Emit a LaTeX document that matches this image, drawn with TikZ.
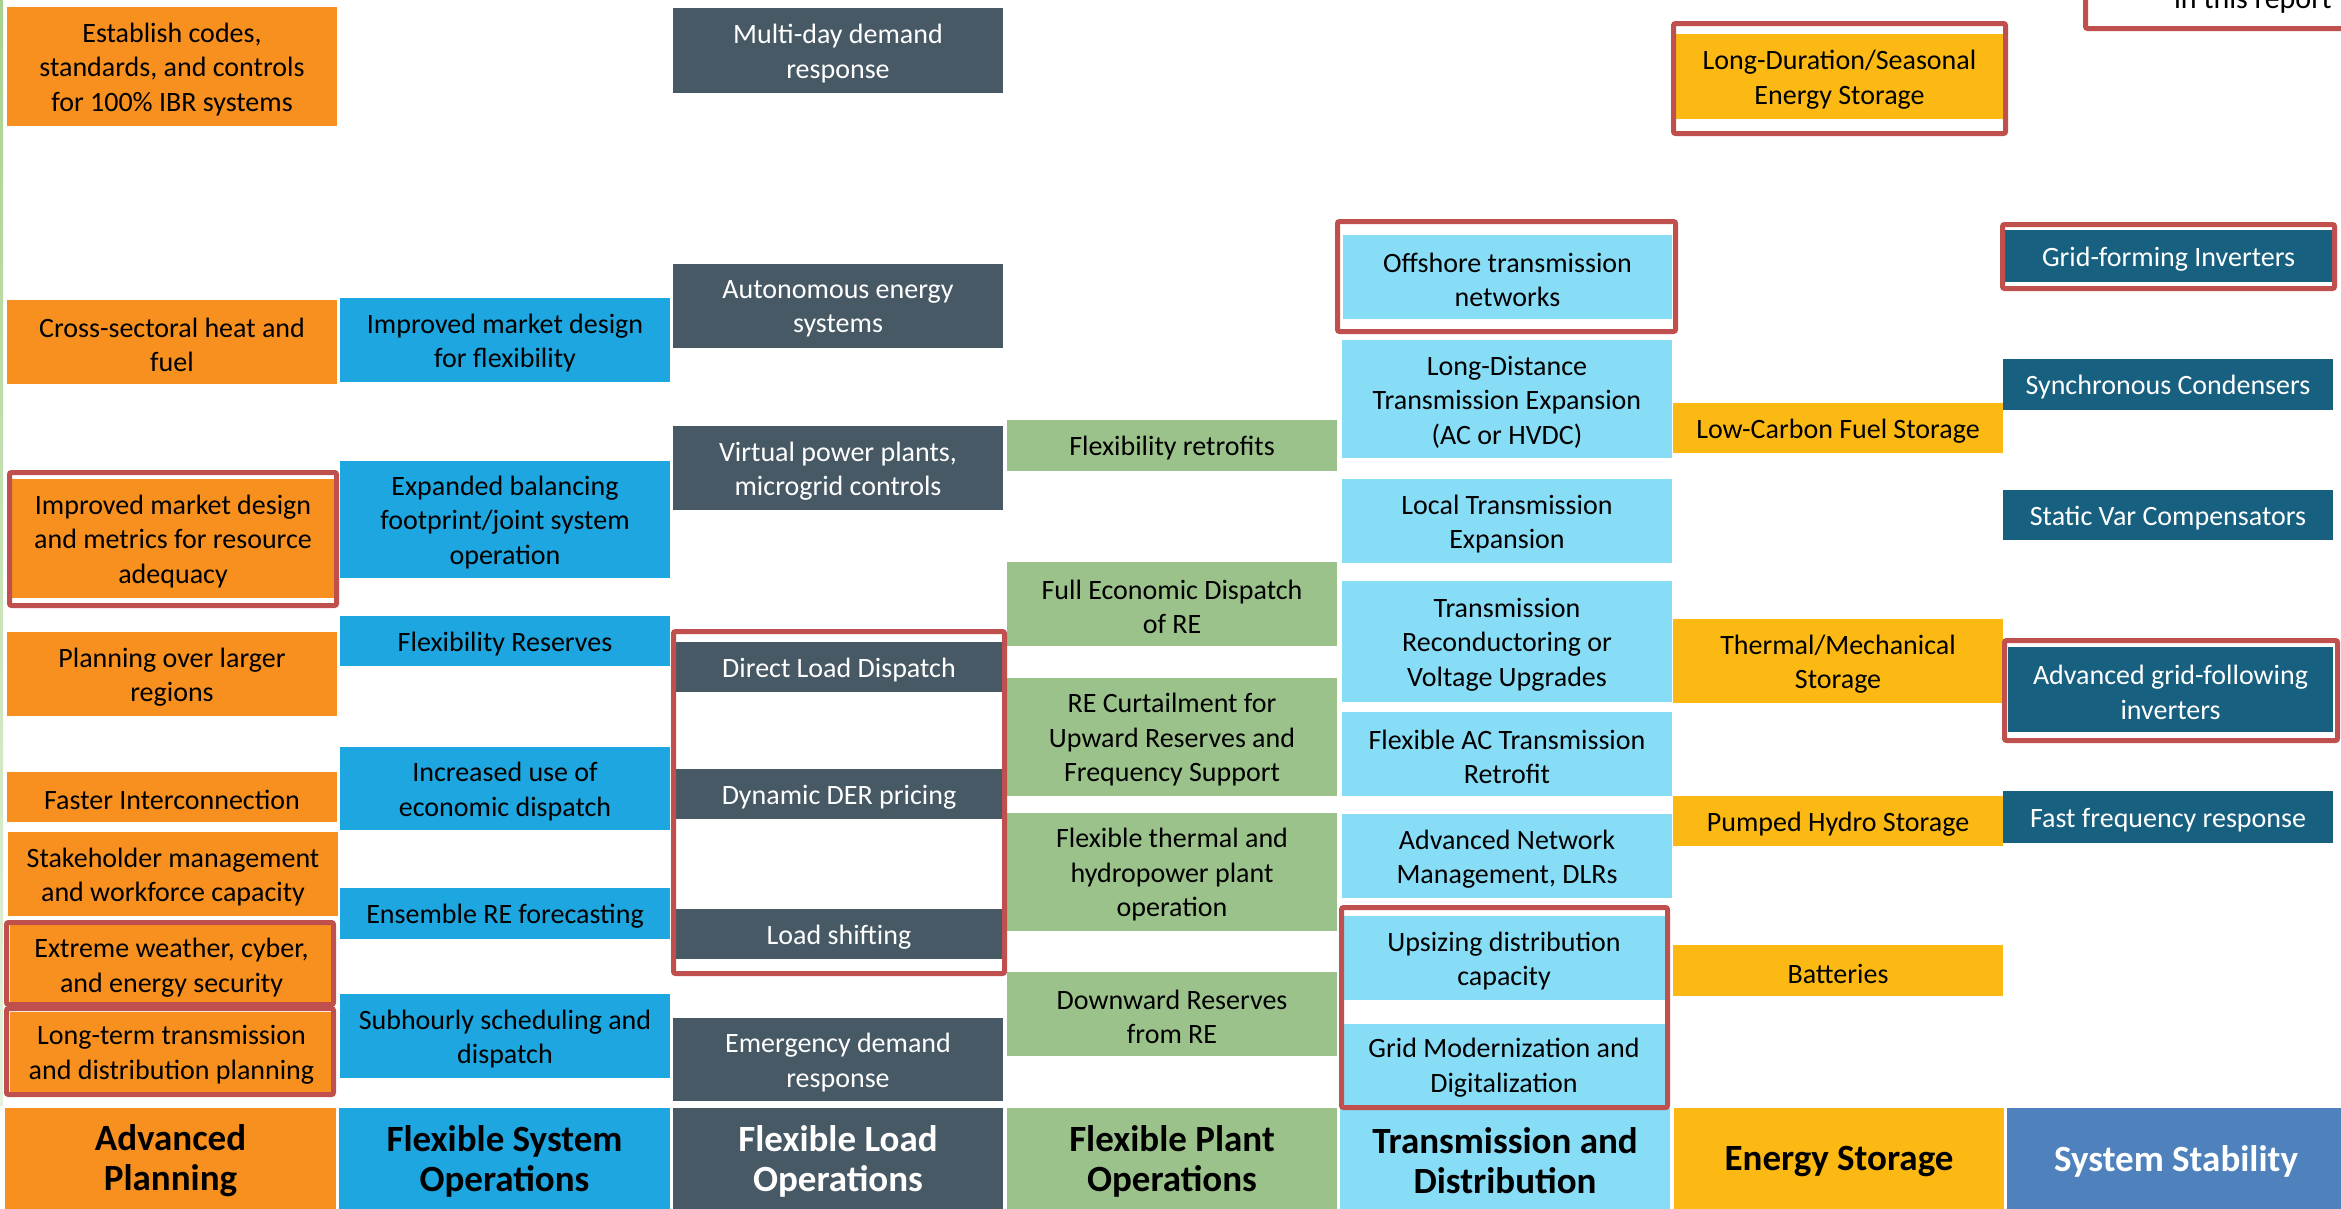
\documentclass[tikz,border=0pt]{standalone}
\usepackage{fontspec}
\setmainfont{Carlito}
\definecolor{cap}{HTML}{F7901E}
\definecolor{cfso}{HTML}{1DA6DF}
\definecolor{cflo}{HTML}{475965}
\definecolor{cfpo}{HTML}{9BC28A}
\definecolor{ctd}{HTML}{87DCF6}
\definecolor{ces}{HTML}{FCB914}
\definecolor{css}{HTML}{176080}
\definecolor{csshead}{HTML}{4F81BD}
\definecolor{cred}{HTML}{C0504D}
\definecolor{cline}{HTML}{A9D18E}
\def\pbdrop{3}
\newcommand\placebox[7]{%
  \pgfmathsetmacro\pbcx{(#2+#4)/2}%
  \pgfmathsetmacro\pbcy{-(#3+#5)/2}%
  \pgfmathsetmacro\pbw{#4-#2}%
  \pgfmathsetmacro\pbh{#5-#3}%
  \node[#6, minimum width=\pbw pt, minimum height=\pbh pt] (#1) at (\pbcx pt,\pbcy pt) {};
  \node[#6, fill=none, minimum width=0pt, minimum height=0pt] (#1-t) at ([yshift=-\pbdrop pt]#1.center) {#7};}
\tikzset{
  cell/.style={inner sep=0pt, outer sep=0pt, align=center, font=\fontsize{28}{34.5}\selectfont},
  ap/.style={cell, fill=cap, text=black},
  fso/.style={cell, fill=cfso, text=black},
  flo/.style={cell, fill=cflo, text=white},
  fpo/.style={cell, fill=cfpo, text=black},
  td/.style={cell, fill=ctd, text=black},
  es/.style={cell, fill=ces, text=black},
  ss/.style={cell, fill=css, text=white},
  headcell/.style={inner sep=0pt, outer sep=0pt, align=center, font=\fontsize{37}{40}\selectfont\bfseries},
  redframe/.style={draw=cred, line width=5pt, rounded corners=2pt},
}
\begin{document}
\begin{tikzpicture}[x=1pt,y=1pt]
\useasboundingbox (0,0) rectangle (2341,-1208);
\clip (0,0) rectangle (2341,-1208);
\fill[white] (0,0) rectangle (2341,-1208);
\shade[top color=cline, bottom color=cline!30!white] (0,0) rectangle (3,-1105);

% Advanced Planning
\placebox{ap1}{7}{7}{337}{126}{ap}{Establish codes,\\standards, and controls\\for 100\% IBR systems}
\placebox{ap2}{7}{300}{337}{384}{ap}{Cross-sectoral heat and\\fuel}
\placebox{ap3}{12}{479}{334}{598}{ap}{Improved market design\\and metrics for resource\\adequacy}
\placebox{ap4}{7}{632}{337}{716}{ap}{Planning over larger\\regions}
\placebox{ap5}{7}{772}{337}{822}{ap}{Faster Interconnection}
\placebox{ap6}{8}{832}{338}{916}{ap}{Stakeholder management\\and workforce capacity}
\placebox{ap7}{10}{925}{333}{1004}{ap}{Extreme weather, cyber,\\and energy security}
\placebox{ap8}{10}{1012}{333}{1092}{ap}{Long-term transmission\\and distribution planning}

% Flexible System Operations
\placebox{fso1}{340}{298}{670}{382}{fso}{Improved market design\\for flexibility}
\placebox{fso2}{340}{461}{670}{578}{fso}{Expanded balancing\\footprint/joint system\\operation}
\placebox{fso3}{340}{616}{670}{666}{fso}{Flexibility Reserves}
\placebox{fso4}{340}{747}{670}{830}{fso}{Increased use of\\economic dispatch}
\placebox{fso5}{340}{888}{670}{939}{fso}{Ensemble RE forecasting}
\placebox{fso6}{340}{994}{670}{1078}{fso}{Subhourly scheduling and\\dispatch}

% Flexible Load Operations
\placebox{flo1}{673}{8}{1003}{93}{flo}{Multi-day demand\\response}
\placebox{flo2}{673}{264}{1003}{348}{flo}{Autonomous energy\\systems}
\placebox{flo3}{673}{426}{1003}{510}{flo}{Virtual power plants,\\microgrid controls}
\placebox{flo4}{676}{642}{1002}{692}{flo}{Direct Load Dispatch}
\placebox{flo5}{676}{769}{1002}{819}{flo}{Dynamic DER pricing}
\placebox{flo6}{676}{909}{1002}{959}{flo}{Load shifting}
\placebox{flo7}{673}{1018}{1003}{1101}{flo}{Emergency demand\\response}

% Flexible Plant Operations
\placebox{fpo1}{1007}{420}{1337}{471}{fpo}{Flexibility retrofits}
\placebox{fpo2}{1007}{562}{1337}{646}{fpo}{Full Economic Dispatch\\of RE}
\placebox{fpo3}{1007}{678}{1337}{796}{fpo}{RE Curtailment for\\Upward Reserves and\\Frequency Support}
\placebox{fpo4}{1007}{813}{1337}{931}{fpo}{Flexible thermal and\\hydropower plant\\operation}
\placebox{fpo5}{1007}{972}{1337}{1056}{fpo}{Downward Reserves\\from RE}

% Transmission and Distribution
\placebox{td1}{1343}{235}{1672}{319}{td}{Offshore transmission\\networks}
\placebox{td2}{1342}{340}{1672}{458}{td}{Long-Distance\\Transmission Expansion\\(AC or HVDC)}
\placebox{td3}{1342}{479}{1672}{563}{td}{Local Transmission\\Expansion}
\placebox{td4}{1342}{581}{1672}{702}{td}{Transmission\\Reconductoring or\\Voltage Upgrades}
\placebox{td5}{1342}{712}{1672}{796}{td}{Flexible AC Transmission\\Retrofit}
\placebox{td6}{1342}{814}{1672}{898}{td}{Advanced Network\\Management, DLRs}
\placebox{td7}{1343}{916}{1665}{1000}{td}{Upsizing distribution\\capacity}
\placebox{td8}{1343}{1024}{1665}{1105}{td}{Grid Modernization and\\Digitalization}

% Energy Storage
\placebox{es1}{1676}{34}{2003}{119}{es}{Long-Duration/Seasonal\\Energy Storage}
\placebox{es2}{1673}{403}{2003}{453}{es}{Low-Carbon Fuel Storage}
\placebox{es3}{1673}{619}{2003}{703}{es}{Thermal/Mechanical\\Storage}
\placebox{es4}{1673}{796}{2003}{846}{es}{Pumped Hydro Storage}
\placebox{es5}{1673}{945}{2003}{996}{es}{Batteries}

% System Stability
\placebox{ss1}{2005}{230}{2332}{282}{ss}{Grid-forming Inverters}
\placebox{ss2}{2003}{359}{2333}{410}{ss}{Synchronous Condensers}
\placebox{ss3}{2003}{490}{2333}{540}{ss}{Static Var Compensators}
\placebox{ss4}{2008}{647}{2333}{732}{ss}{Advanced grid-following\\inverters}
\placebox{ss5}{2003}{791}{2333}{843}{ss}{Fast frequency response}

% Headers
\def\pbdrop{1}
\placebox{h1}{5}{1108}{336}{1212}{headcell, fill=cap, text=black}{Advanced\\Planning}
\placebox{h2}{339}{1108}{670}{1212}{headcell, fill=cfso, text=black}{Flexible System\\Operations}
\placebox{h3}{673}{1108}{1003}{1212}{headcell, fill=cflo, text=white}{Flexible Load\\Operations}
\placebox{h4}{1007}{1108}{1337}{1212}{headcell, fill=cfpo, text=black}{Flexible Plant\\Operations}
\placebox{h5}{1340}{1108}{1670}{1212}{headcell, fill=ctd, text=black}{Transmission and\\Distribution}
\placebox{h6}{1674}{1108}{2004}{1212}{headcell, fill=ces, text=black}{Energy Storage}
\placebox{h7}{2007}{1108}{2345}{1212}{headcell, fill=csshead, text=white}{System Stability}

% Red highlight frames
\draw[redframe] (9.5,-472.5) rectangle (336.5,-605.5);
\draw[redframe] (6.5,-922.5) rectangle (333.5,-1004.5);
\draw[redframe] (6.5,-1008.5) rectangle (333.5,-1094.5);
\draw[redframe] (673.5,-631.5) rectangle (1004.5,-973.5);
\draw[redframe] (1337.5,-221.5) rectangle (1675.5,-331.5);
\draw[redframe] (1341.5,-907.5) rectangle (1667.5,-1107.5);
\draw[redframe] (1673.5,-23.5) rectangle (2005.5,-133.5);
\draw[redframe] (2002.5,-224.5) rectangle (2334.5,-288.5);
\draw[redframe] (2004.5,-640.5) rectangle (2337.5,-740.5);

% Legend box (cut off at top, as in the reference)
\draw[redframe] (2085.5,60) rectangle (2440,-28.5);
\node[anchor=base east, inner sep=0pt, font=\fontsize{30}{36}\selectfont] (legend) at (2332,-8) {in this report};
\end{tikzpicture}
\end{document}
